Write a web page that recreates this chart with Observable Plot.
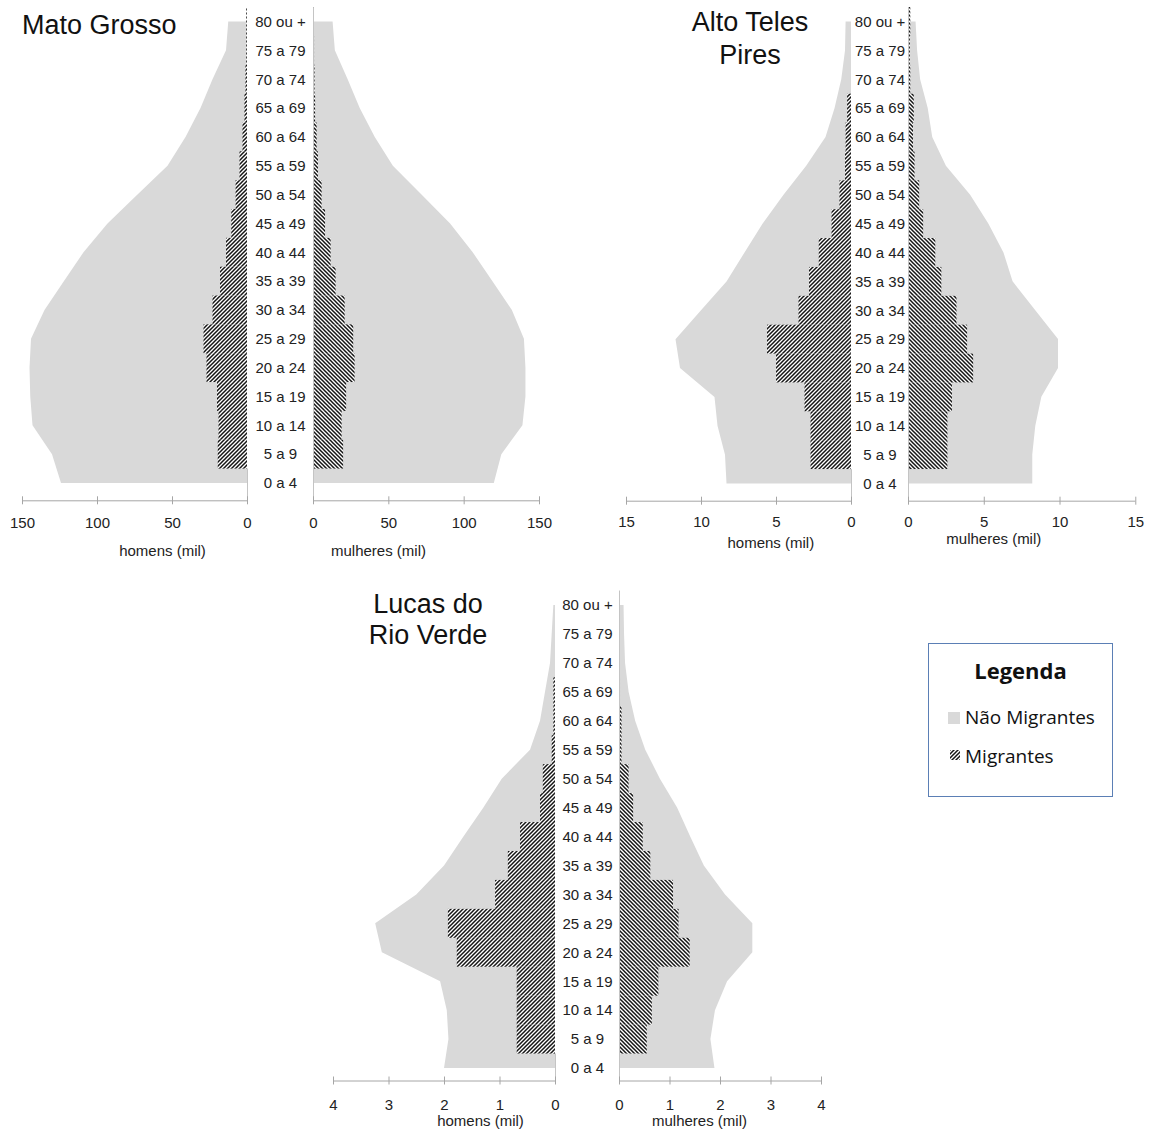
<!DOCTYPE html>
<html><head><meta charset="utf-8">
<script src="https://cdn.jsdelivr.net/npm/d3@7"></script>
<script src="https://cdn.jsdelivr.net/npm/@observablehq/plot@0.6"></script>
<style>
body{margin:0;background:#fff;}
#root{position:relative;width:1152px;height:1135px;overflow:hidden;font-family:"Liberation Sans",Arial,sans-serif;background:#fff;}
.title{position:absolute;font-size:27px;color:#111;white-space:nowrap;}
#legend{position:absolute;left:928px;top:643px;width:183px;height:152px;border:1px solid #5b7fb5;font-family:"Open Sans",sans-serif;color:#111;}
#legend .lt{position:absolute;left:0;width:183px;top:12px;text-align:center;font-weight:bold;font-size:22px;line-height:28px;}
#legend .it{position:absolute;left:36px;font-size:19px;line-height:24px;white-space:nowrap;}
#legend .sw{position:absolute;left:19px;width:12px;height:12px;}
</style></head><body>
<svg width="0" height="0" style="position:absolute">
<defs>
<pattern id="hatchM" patternUnits="userSpaceOnUse" width="4" height="4">
<rect width="4" height="4" fill="#fff"/>
<path d="M-1,5 L5,-1 M-1,1 L1,-1 M3,5 L5,3" stroke="#151515" stroke-width="1.5"/>
</pattern>
<pattern id="hatchF" patternUnits="userSpaceOnUse" width="4" height="4">
<rect width="4" height="4" fill="#fff"/>
<path d="M-1,-1 L5,5 M-1,3 L1,5 M3,-1 L5,1" stroke="#151515" stroke-width="1.5"/>
</pattern>
</defs></svg>
<div id="root"></div>
<script>
// ---------- DATA ----------
const ages = ["0 a 4","5 a 9","10 a 14","15 a 19","20 a 24","25 a 29","30 a 34","35 a 39","40 a 44","45 a 49","50 a 54","55 a 59","60 a 64","65 a 69","70 a 74","75 a 79","80 ou +"];

// Mato Grosso (mil)
const mgHomensNaoMig   = [124, 130, 143, 144.5, 145, 144, 135, 122, 109, 93, 73, 53, 41, 31, 23, 14, 12.5];
const mgHomensMig      = [0, 19.5, 19, 20, 27, 29, 23, 18, 14, 10.5, 7.6, 5, 3, 1.7, 1, 0.5, 0.5];
const mgMulheresNaoMig = [120, 125, 139, 141, 141, 140, 132, 119, 106, 91, 72, 53, 41, 31, 23, 14.5, 13];
const mgMulheresMig    = [0, 20, 19, 22, 27.6, 26.7, 21, 15, 11.7, 8, 5.7, 3.3, 2.4, 1.4, 1, 0.7, 0.5];

// Alto Teles Pires (mil)
const atpHomensNaoMig   = [8.3, 8.4, 8.9, 9.1, 11.4, 11.7, 10, 8.3, 7.1, 5.9, 4.5, 3.0, 1.7, 1.1, 0.65, 0.4, 0.36];
const atpHomensMig      = [0, 2.7, 2.7, 3.1, 5.0, 5.6, 3.5, 2.8, 2.15, 1.3, 0.77, 0.4, 0.36, 0.26, 0, 0, 0];
const atpMulheresNaoMig = [8.2, 8.2, 8.4, 8.8, 9.9, 9.9, 8.4, 6.9, 6.3, 5.3, 4.1, 2.5, 1.6, 1.3, 0.8, 0.6, 0.5];
const atpMulheresMig    = [0, 2.6, 2.6, 2.9, 4.3, 3.9, 3.2, 2.2, 1.8, 1.0, 0.74, 0.43, 0.33, 0.38, 0.15, 0.12, 0.15];

// Lucas do Rio Verde (mil)
const lrvHomensNaoMig   = [2.0, 1.92, 1.95, 2.07, 3.12, 3.24, 2.5, 2.0, 1.65, 1.29, 0.96, 0.45, 0.27, 0.18, 0.09, 0.06, 0.03];
const lrvHomensMig      = [0, 0.69, 0.69, 0.69, 1.77, 1.93, 1.08, 0.85, 0.63, 0.27, 0.22, 0.06, 0.03, 0.03, 0, 0, 0];
const lrvMulheresNaoMig = [1.89, 1.81, 1.9, 2.14, 2.64, 2.64, 2.1, 1.68, 1.41, 1.15, 0.81, 0.52, 0.32, 0.19, 0.12, 0.1, 0.09];
const lrvMulheresMig    = [0, 0.55, 0.65, 0.78, 1.40, 1.18, 1.07, 0.62, 0.47, 0.28, 0.19, 0.05, 0.05, 0.02, 0, 0, 0];

const mgTicks = [0, 50, 100, 150];
const atpTicks = [0, 5, 10, 15];
const lrvTicks = [0, 1, 2, 3, 4];

const labelHomens = "homens (mil)";
const labelMulheres = "mulheres (mil)";
const legendTitle = "Legenda";
const legendNaoMig = "Não Migrantes";
const legendMig = "Migrantes";

// ---------- LAYOUT ----------
const panels = [
  {title:["Mato Grosso"], titleLeft:22, titleTop:9, titleCenter:null, lh:33,
   max:150, ticks:mgTicks, menEnd:22, men0:247, fem0:313, femEnd:539,
   yTop:21.5, yBottom:483, axisY:500.3, top:0, height:570, tickPad:16.3,
   menTitle:[162,555], femTitle:[378,555],
   data:[mgHomensNaoMig, mgHomensMig, mgMulheresNaoMig, mgMulheresMig]},
  {title:["Alto Teles","Pires"], titleCenter:750, titleTop:6, lh:33,
   max:15, ticks:atpTicks, menEnd:625.7, men0:850.7, fem0:907.7, femEnd:1135,
   yTop:21.5, yBottom:483.5, axisY:500.7, top:0, height:570, tickPad:15.3,
   menTitle:[770,547], femTitle:[993,544],
   data:[atpHomensNaoMig, atpHomensMig, atpMulheresNaoMig, atpMulheresMig]},
  {title:["Lucas do","Rio Verde"], titleCenter:428, titleTop:589, lh:31,
   max:4, ticks:lrvTicks, menEnd:333, men0:555, fem0:619, femEnd:821,
   yTop:605, yBottom:1068, axisY:1080.5, top:585, height:550, tickPad:18,
   menTitle:[480,1125], femTitle:[699,1125],
   data:[lrvHomensNaoMig, lrvHomensMig, lrvMulheresNaoMig, lrvMulheresMig]}
];

const root = document.getElementById("root");
const GREY = "#d9d9d9", AXIS = "#a6a6a6", TXT = "#222";

function half(cfg, isMen) {
  const non = isMen ? cfg.data[0] : cfg.data[2];
  const mig = isMen ? cfg.data[1] : cfg.data[3];
  const rows = ages.map((a, i) => ({age: a, i, non: non[i], mig: mig[i]}));
  const rowH = (cfg.yBottom - cfg.yTop) / (ages.length - 1);
  const yLow = -(cfg.axisY - cfg.yBottom) / rowH;
  const yHigh = ages.length - 1;
  const x0 = isMen ? cfg.men0 : cfg.fem0;
  const xE = isMen ? cfg.menEnd : cfg.femEnd;
  const left = isMen ? cfg.menEnd - 26 : cfg.men0 + 3;
  const right = isMen ? cfg.men0 + 4 : cfg.femEnd + 26;
  const marginLeft = (isMen ? xE : x0) - left;
  const marginRight = right - (isMen ? x0 : xE);
  const tk = 4 / rowH;
  const frameMid = (x0 + xE) / 2;
  const tpos = isMen ? cfg.menTitle : cfg.femTitle;
  const colCenter = (cfg.men0 + cfg.fem0) / 2;
  const marks = [
    Plot.areaX(rows, {y: "i", x: "non", fill: GREY, curve: "linear"}),
    Plot.rectX(rows, {y1: d => d.i - 0.5, y2: d => d.i + 0.5, x: "mig", fill: isMen ? "url(#hatchM)" : "url(#hatchF)"}),
    Plot.ruleX([0], {y1: () => yLow, y2: () => isMen ? 0.5 : yHigh + 0.5, stroke: "#c4c4c4", strokeWidth: 1}),
    Plot.ruleY([yLow], {stroke: AXIS, strokeWidth: 1}),
    Plot.ruleX(cfg.ticks, {x: d => d, y1: () => yLow - tk, y2: () => yLow + tk, stroke: AXIS, strokeWidth: 1}),
    Plot.axisX({ticks: cfg.ticks, tickSize: 0, tickPadding: cfg.tickPad, fontSize: 15, tickFormat: d => String(d), label: null}),
    Plot.text([isMen ? labelHomens : labelMulheres], {text: d => d, frameAnchor: "bottom", dx: tpos[0] - frameMid, dy: tpos[1] - cfg.axisY, fontSize: 15, fill: TXT})
  ];
  if (!isMen) {
    marks.push(Plot.axisY({anchor: "left", ticks: ages.map((_, i) => i), tickFormat: i => ages[i], tickSize: 0,
      tickPadding: x0 - colCenter, textAnchor: "middle", fontSize: 15, label: null}));
  }
  const svg = Plot.plot({
    width: right - left,
    height: cfg.height,
    marginLeft, marginRight,
    marginTop: cfg.yTop - cfg.top,
    marginBottom: cfg.top + cfg.height - cfg.axisY,
    x: {domain: [0, cfg.max], reverse: isMen},
    y: {domain: [yLow, yHigh], axis: isMen ? null : undefined},
    style: {background: "transparent", overflow: "visible", fontFamily: "'Liberation Sans', Arial, sans-serif", color: TXT},
    marks
  });
  svg.style.position = "absolute";
  svg.style.left = left + "px";
  svg.style.top = cfg.top + "px";
  root.appendChild(svg);
}

for (const cfg of panels) {
  half(cfg, true);
  half(cfg, false);
  const t = document.createElement("div");
  t.className = "title";
  t.style.lineHeight = cfg.lh + "px";
  t.style.top = cfg.titleTop + "px";
  if (cfg.titleCenter == null) {
    t.style.left = cfg.titleLeft + "px";
  } else {
    t.style.left = (cfg.titleCenter - 110) + "px";
    t.style.width = "220px";
    t.style.textAlign = "center";
  }
  t.innerHTML = cfg.title.join("<br>");
  root.appendChild(t);
}

// legend
const lg = document.createElement("div");
lg.id = "legend";
lg.innerHTML = `
<div class="lt">${legendTitle}</div>
<div class="sw" style="top:68px;background:${GREY}"></div>
<div class="it" style="top:61px">${legendNaoMig}</div>
<svg class="sw" style="top:106px;width:10px;height:10px;left:21px"><rect width="10" height="10" fill="url(#hatchM)"/></svg>
<div class="it" style="top:100px">${legendMig}</div>`;
root.appendChild(lg);
</script>
</body></html>
